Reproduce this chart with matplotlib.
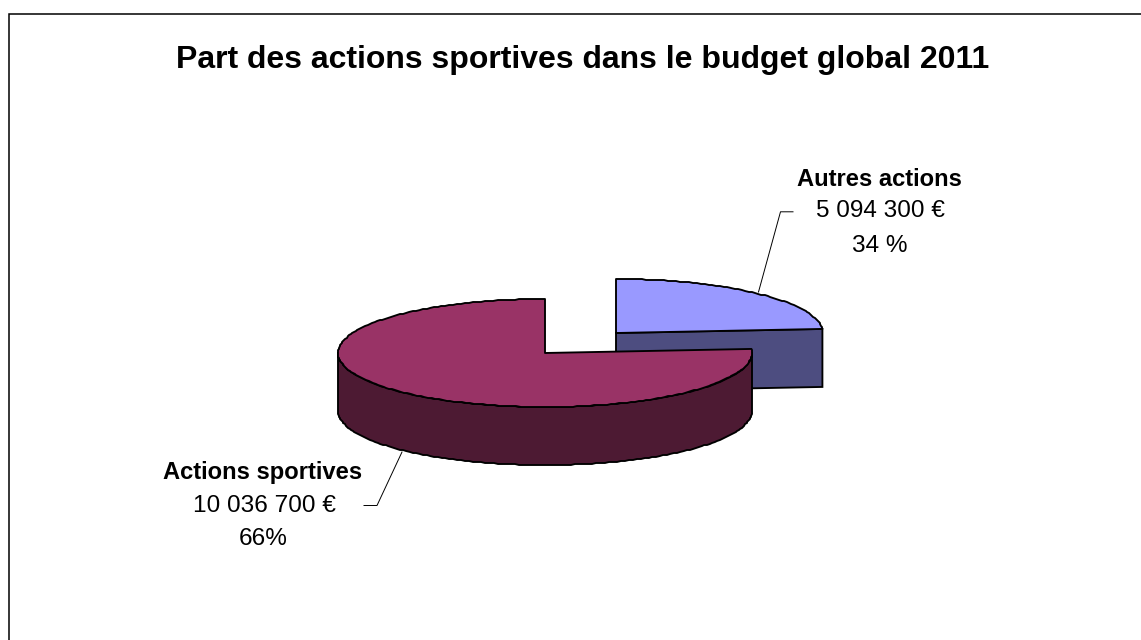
import numpy as np
import matplotlib
matplotlib.use("Agg")
import matplotlib.pyplot as plt
from matplotlib.patches import Polygon

title = "Part des actions sportives dans le budget global 2011"
categories = ["Autres actions", "Actions sportives"]
amounts = ["5 094 300 €", "10 036 700 €"]
percent_labels = ["34 %", "66%"]
drawn_shares = [23.8, 76.2]   # shares as drawn in the picture

top_colors = ["#9999FF", "#993366"]
side_colors = ["#4D4D80", "#4D1A33"]
centers = [(616.0, 333.0), (545.0, 353.0)]
RX, RY, DEPTH = 207.0, 54.0, 58.0

W, H = 1141, 640
plt.rcParams["font.family"] = ["Liberation Sans", "DejaVu Sans"]
fig = plt.figure(figsize=(W / 100, H / 100), dpi=100, facecolor="white")
ax = fig.add_axes([0, 0, 1, 1])
ax.set_xlim(0, W)
ax.set_ylim(H, 0)
ax.axis("off")

# chart frame: only the top and left edges fall inside the picture
ax.plot([9, 9, W], [H, 13.7, 13.7], color="black", lw=1.1,
        solid_joinstyle="miter", zorder=1)


def point(c, a, depth=0.0):
    return c[0] + RX * np.sin(a), c[1] - RY * np.cos(a) + depth


def rim(c, a0, a1, depth=0.0):
    # the reference outline is a fine polygon snapped to whole pixels
    n = max(2, int((a1 - a0) / (2 * np.pi) * 300) + 1)
    t = np.linspace(a0, a1, n)
    x, y = point(c, t, depth)
    inner = np.arange(1, n - 1)
    x[inner] = np.round(x[inner])
    y[inner] = np.round(y[inner])
    return np.c_[x, y]


def draw_slice(c, a0, a1, top, side, z):
    lw = 1.35
    # outer rim: only the front-facing part (90..270 degrees) is visible
    lo, hi = max(a0, np.pi / 2), min(a1, 3 * np.pi / 2)
    if hi > lo:
        ax.add_patch(Polygon(np.r_[rim(c, lo, hi), rim(c, lo, hi, DEPTH)[::-1]],
                             closed=True, fc=side, ec="black", lw=lw,
                             joinstyle="round", zorder=z))
    # cut face at the end of a slice that stops before the front of the pie
    if a1 < np.pi / 2:
        p = point(c, a1)
        pb = point(c, a1, DEPTH)
        ax.add_patch(Polygon([c, p, pb, (c[0], c[1] + DEPTH)], closed=True,
                             fc=side, ec="black", lw=lw, zorder=z))
    ax.add_patch(Polygon(np.r_[[c], rim(c, a0, a1)], closed=True,
                         fc=top, ec="black", lw=lw, joinstyle="round", zorder=z + 0.1))


fr = np.cumsum([0] + drawn_shares) / sum(drawn_shares) * 2 * np.pi
for i in range(2):
    draw_slice(centers[i], fr[i], fr[i + 1], top_colors[i], side_colors[i], 2 + i)

# leader lines
ax.plot([758.5, 780.5, 793], [292, 211.8, 211.8], color="black", lw=0.7, zorder=6)
ax.plot([402, 377, 364], [452, 505.5, 505.5], color="black", lw=0.7, zorder=6)

ax.text(582.5, 60, title, fontsize=23.0, fontweight="bold", ha="center", va="center", color="black")

FS_BOLD = 17.1
FS = 17.6
ax.text(879, 180, categories[0], fontsize=FS_BOLD, fontweight="bold", ha="center", va="center")
ax.text(880, 211, amounts[0], fontsize=FS, ha="center", va="center")
ax.text(880, 246, percent_labels[0], fontsize=FS, ha="center", va="center")
ax.text(263, 473, categories[1], fontsize=FS_BOLD, fontweight="bold", ha="center", va="center")
ax.text(264, 506, amounts[1], fontsize=FS, ha="center", va="center")
ax.text(263, 539, percent_labels[1], fontsize=FS, ha="center", va="center")

fig.savefig("out.png", dpi=100, facecolor="white")
